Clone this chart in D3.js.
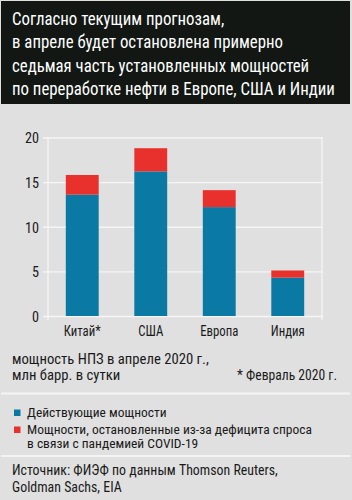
<!DOCTYPE html>
<html>
<head>
<meta charset="utf-8">
<script src="https://cdn.jsdelivr.net/npm/d3@7/dist/d3.min.js"></script>
<style>
  html, body { margin: 0; padding: 0; background: #e0e0e0; }
  svg { display: block; }
  text { font-family: "Liberation Sans Narrow", "Roboto Condensed", "Arial Narrow", "Liberation Sans", Roboto, sans-serif; }
</style>
</head>
<body>
<script>
// ---- data ----
const categories = ["Китай*", "США", "Европа", "Индия"];
const operating = [13.6, 16.2, 12.2, 4.3];
const shutdown = [2.2, 2.6, 1.9, 0.8];
const yTicks = [0, 5, 10, 15, 20];
const titleLines = [
  "Согласно текущим прогнозам,",
  "в апреле будет остановлена примерно",
  "седьмая часть установленных мощностей",
  "по переработке нефти в Европе, США и Индии"
];
const unitLines = ["мощность НПЗ в апреле 2020 г.,", "млн барр. в сутки"];
const footnote = "* Февраль 2020 г.";
const legendLabels = [["Действующие мощности"], ["Мощности, остановленные из-за дефицита спроса", "в связи с пандемией COVID-19"]];
const sourceLines = ["Источник: ФИЭФ по данным Thomson Reuters,", "Goldman Sachs, EIA"];

const W = 352, H = 500;
const colors = { operating: "#0a7aa4", shutdown: "#e8312c" };

const svg = d3.select("body").append("svg").attr("width", W).attr("height", H);
svg.append("rect").attr("width", W).attr("height", H).attr("fill", "#e0e0e0");

// helper: horizontally fit a block of text nodes using a reference node width
function fitBlock(nodes, refNode, target) {
  const w = refNode.getComputedTextLength();
  const s = target / w;
  nodes.forEach(n => {
    const t = d3.select(n);
    const base = t.attr("data-base") || "";
    t.attr("transform", base + " scale(" + s + ",1)");
  });
}

// ---- header ----
svg.append("rect").attr("x", 1).attr("y", 1).attr("width", 349).attr("height", 103).attr("fill", "#121714");
const tl = svg.append("g").selectAll("text").data(titleLines).join("text")
  .attr("data-base", (d, i) => "translate(12," + (25 + i * 23.4) + ")")
  .attr("fill", "#ffffff").attr("font-size", 19).text(d => d);
fitBlock(tl.nodes(), tl.nodes()[3], 323);

// ---- chart ----
const x = d3.scaleBand().domain(categories).range([48, 322]).paddingInner(0.52).paddingOuter(0.26);
const y = d3.scaleLinear().domain([0, 20]).range([316, 137.5]);

// grid + y labels
const yAxis = svg.append("g").attr("transform", "translate(43,0)")
  .call(d3.axisLeft(y).tickValues(yTicks).tickSize(-(322.7 - 43)).tickPadding(4));
yAxis.select(".domain").remove();
yAxis.selectAll(".tick line").attr("stroke", "#f6f6f6").attr("stroke-width", 1.3);
yAxis.selectAll(".tick text")
  .attr("x", null).attr("dy", "0.36em").attr("font-size", 15).attr("fill", "#1a1a1a")
  .attr("data-base", "translate(-4,0)");
fitBlock(yAxis.selectAll(".tick text").nodes(), yAxis.selectAll(".tick text").nodes()[4], 14);

// vertical frame lines
svg.append("g").selectAll("line").data(x.range()).join("line")
  .attr("x1", d => d).attr("x2", d => d).attr("y1", y(20)).attr("y2", 320)
  .attr("stroke", "#f6f6f6").attr("stroke-width", 1.3);

// stacked bars
const rows = categories.map((c, i) => ({ cat: c, operating: operating[i], shutdown: shutdown[i] }));
const stack = d3.stack().keys(["operating", "shutdown"])(rows);
svg.append("g").selectAll("g").data(stack).join("g")
  .attr("fill", d => colors[d.key])
  .selectAll("rect").data(d => d).join("rect")
  .attr("x", d => x(d.data.cat)).attr("width", x.bandwidth())
  .attr("y", d => y(d[1])).attr("height", d => y(d[0]) - y(d[1]));

// x labels
const xAxis = svg.append("g").attr("transform", "translate(0,316)")
  .call(d3.axisBottom(x).tickSize(0));
xAxis.select(".domain").remove();
xAxis.selectAll(".tick text").attr("y", 20).attr("dy", 0).attr("font-size", 14).attr("fill", "#1a1a1a")
  .attr("data-base", "");
fitBlock(xAxis.selectAll(".tick text").nodes(), xAxis.selectAll(".tick text").nodes()[0], 37);

// ---- captions ----
const ul = svg.append("g").selectAll("text").data(unitLines).join("text")
  .attr("data-base", (d, i) => "translate(12," + (364 + i * 16) + ")")
  .attr("font-size", 14).attr("fill", "#1a1a1a").text(d => d);
fitBlock(ul.nodes(), ul.nodes()[0], 197);

const fn = svg.append("text").attr("data-base", "translate(337,380)")
  .attr("text-anchor", "end").attr("font-size", 14).attr("fill", "#1a1a1a").text(footnote);
fitBlock([fn.node()], fn.node(), 100);

// separators
svg.append("g").selectAll("line").data([393.5, 456]).join("line")
  .attr("x1", 1).attr("x2", 350).attr("y1", d => d).attr("y2", d => d)
  .attr("stroke", "#f4f4f4").attr("stroke-width", 2);

// ---- legend ----
const keys = ["operating", "shutdown"];
const lg = svg.append("g");
const legendY = [416.5, 433.5];
keys.forEach((k, i) => {
  lg.append("rect").attr("x", 14).attr("y", legendY[i] - 7).attr("width", 6.5).attr("height", 6.5).attr("fill", colors[k]);
});
const legendTexts = [];
legendLabels.forEach((lines, i) => {
  lines.forEach((ln, j) => {
    const t = lg.append("text").attr("data-base", "translate(27," + (legendY[i] + j * 14.5) + ")")
      .attr("font-size", 12.5).attr("fill", "#1a1a1a").text(ln);
    legendTexts.push(t.node());
  });
});
fitBlock(legendTexts, legendTexts[1], 285);

// ---- source ----
const sl = svg.append("g").selectAll("text").data(sourceLines).join("text")
  .attr("data-base", (d, i) => "translate(12," + (475 + i * 16.5) + ")")
  .attr("font-size", 14).attr("fill", "#1a1a1a").text(d => d);
fitBlock(sl.nodes(), sl.nodes()[0], 266);
</script>
</body>
</html>
